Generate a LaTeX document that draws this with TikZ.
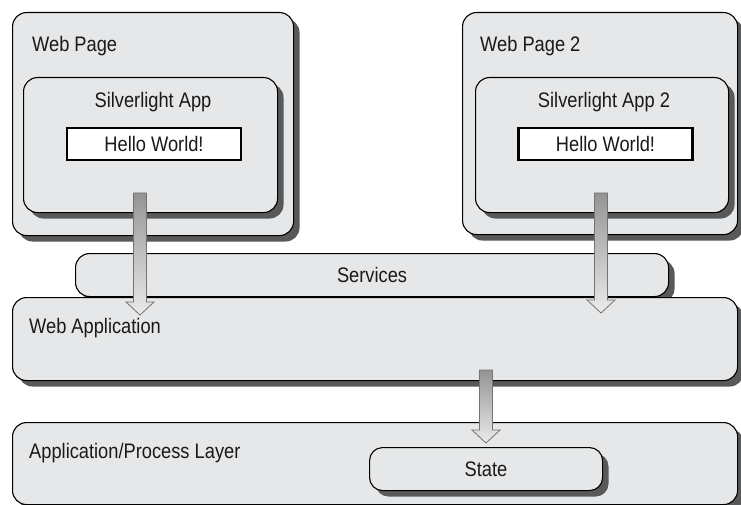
\documentclass[tikz,border=0pt]{standalone}
\usepackage{fontspec}
\setmainfont{Liberation Sans}[FakeStretch=0.87]
\usepackage{xcolor}
\usepackage{tikz}
\usetikzlibrary{positioning,shadows,calc}

\definecolor{boxgray}{HTML}{E6E7E8}
\definecolor{shadowgray}{HTML}{58595B}

% down arrow drawn as a filled outline between two coordinates
\newcommand{\flowarrow}[2]{%
  \path[flow] let \p1=(#1), \p2=(#2) in
    (\x1-6.5pt,\y1) -- (\x1+6.5pt,\y1) -- (\x1+6.5pt,\y2+13pt) -- (\x1+14pt,\y2+13pt)
    -- (\x1,\y2) -- (\x1-14pt,\y2+13pt) -- (\x1-6.5pt,\y2+13pt) -- cycle;
}

\begin{document}
\begin{tikzpicture}[
    x=1pt, y=-1pt,
    every node/.style={font=\fontsize{21}{25}\selectfont, inner sep=0pt, text=black!90},
    panel/.style={rectangle, draw=black, line width=1.1pt, fill=boxgray, rounded corners=14pt,
        drop shadow={shadow xshift=6pt, shadow yshift=-6pt, fill=shadowgray, opacity=1}},
    hello/.style={rectangle, draw=black, line width=2.2pt, fill=white, minimum width=174pt, minimum height=32pt},
    caption/.style={anchor=base west},
    flow/.style={draw=black!55, line width=0.8pt, top color=black!42, bottom color=black!8}
]
\useasboundingbox[fill=white] (0,0) rectangle (741,505);

% Web pages
\node[panel, anchor=north west, minimum width=281pt, minimum height=223pt] (page) at (12,12) {};
\node[caption] (pagetxt) at (32,52) {Web Page};
\node[panel, anchor=north west, minimum width=254pt, minimum height=135pt] (app) at (23,77) {};
\node[anchor=base] (apptxt) at (153,108) {Silverlight App};
\node[hello] (hello) at (154,144) {Hello World!};

\node[panel, anchor=north west, minimum width=275pt, minimum height=222pt] (page2) at (462,12) {};
\node[caption] (page2txt) at (480,52) {Web Page 2};
\node[panel, anchor=north west, minimum width=253pt, minimum height=135pt] (app2) at (475,77) {};
\node[anchor=base] (app2txt) at (604,108) {Silverlight App 2};
\node[hello] (hello2) at (605.5,144) {Hello World!};

% Server side
\node[panel, anchor=north west, minimum width=593pt, minimum height=43pt] (services) at (75,253) {Services};
\node[panel, anchor=north west, minimum width=725pt, minimum height=83pt] (webapp) at (12,297) {};
\node[caption] (webapptxt) at (29,333) {Web Application};
\node[panel, anchor=north west, minimum width=725pt, minimum height=82pt] (layer) at (12,422) {};
\node[caption] (layertxt) at (29,458) {Application/Process Layer};
\node[panel, anchor=north west, minimum width=233pt, minimum height=43pt, rounded corners=13pt] (state) at (369,447) {State};

% Arrows
\coordinate (a1s) at (140,193);
\coordinate (a1e) at (140,315);
\coordinate (a2s) at (601,193);
\coordinate (a2e) at (601,313);
\coordinate (a3s) at (486,370);
\coordinate (a3e) at (486,443);
\flowarrow{a1s}{a1e}
\flowarrow{a2s}{a2e}
\flowarrow{a3s}{a3e}

\end{tikzpicture}
\end{document}
